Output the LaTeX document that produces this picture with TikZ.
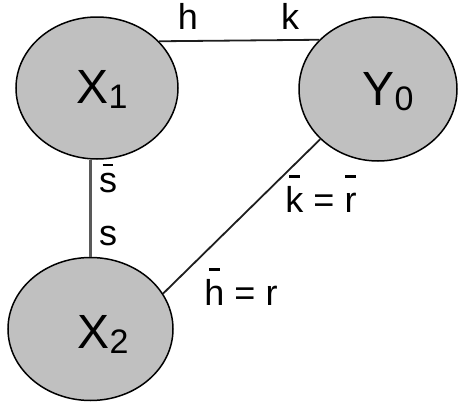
\documentclass[tikz,border=0pt]{standalone}
\usepackage{fontspec}
\setmainfont{Liberation Sans}
\usetikzlibrary{shapes.geometric}
\definecolor{nodefill}{RGB}{192,192,192}
\definecolor{edgecol}{RGB}{30,30,30}
\newcommand\bartxt[2][0.95em]{\leavevmode\setbox0\hbox{#2}\rlap{\hbox to\wd0{\hss\raisebox{#1}{\rule{0.3em}{0.07em}}\hss}}\box0\relax}
\newcommand\subtxt[2]{#1\raisebox{-0.12em}{\fontsize{34}{34}\selectfont #2}}
\begin{document}
\begin{tikzpicture}[x=1pt,y=-1pt,
  state/.style={ellipse,draw=black,line width=1.5pt,fill=nodefill,inner sep=0pt},
  nodetext/.style={inner sep=0pt,anchor=base,font=\fontsize{48}{48}\selectfont},
  edge/.style={draw=edgecol,line width=1.8pt},
  lab/.style={inner sep=0pt,anchor=base,font=\fontsize{36}{36}\selectfont}]
\useasboundingbox (0,0) rectangle (458,407);
\node[state,minimum width=162pt,minimum height=142pt] (X1) at (97,88) {};
\node[state,minimum width=158pt,minimum height=144pt] (Y0) at (378,89) {};
\node[state,minimum width=165pt,minimum height=143pt] (X2) at (90.5,329) {};
\node[nodetext] (tX1) at (102,103) {\subtxt{X}{1}};
\node[nodetext] (tY0) at (388,105) {\subtxt{Y}{0}};
\node[nodetext] (tX2) at (103,348) {\subtxt{X}{2}};
\draw[edge] (X1.37) -- (Y0.140);
\draw[edge,draw=black!65,line width=2.4pt] (X2.north |- X1.south) -- (X2.north);
\draw[edge] (Y0.221) -- (X2.26.7);
\node[lab] (lh) at (188,29) {h};
\node[lab] (lk) at (290,29) {k};
\node[lab] (lsb) at (108,192) {\bartxt[0.72em]{s}};
\node[lab] (ls) at (108,245) {s};
\node[lab] (lkr) at (321,212) {\bartxt{k} = \bartxt{r}};
\node[lab] (lhr) at (241,305) {\bartxt{h} = r};
\end{tikzpicture}
\end{document}
